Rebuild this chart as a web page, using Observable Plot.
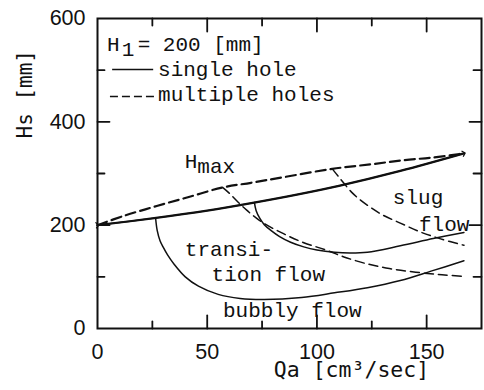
<!DOCTYPE html>
<html>
<head>
<meta charset="utf-8">
<script src="https://cdn.jsdelivr.net/npm/d3@7"></script>
<script src="https://cdn.jsdelivr.net/npm/@observablehq/plot@0.6"></script>
<style>
  body { margin: 0; background: #fff; }
  #chart svg { display: block; }
</style>
</head>
<body>
<div id="chart"></div>
<script>
// Air flow rate Qa [cm³/sec] against liquid head Hs [mm], H1 = 200 mm.

// Upper limit Hmax, single hole (solid) and multiple holes (dashed)
const hmaxSingleQa = [0, 25, 50, 72, 92, 110, 138, 167];
const hmaxSingleHs = [200, 213, 228, 244, 260, 276, 305, 339];
const hmaxMultiQa = [0, 12, 27, 42, 57, 70, 85, 107, 125, 140, 153, 167];
const hmaxMultiHs = [200, 218, 237, 255, 273, 282, 293, 309, 318, 326, 331, 339];

// Bubbly / transition boundary, single hole
const bubblyQa = [26.5, 27.2, 28.5, 30, 32, 35, 40, 46, 55, 65, 76, 93, 108, 123, 138, 152, 167];
const bubblyHs = [213, 190, 170, 157, 142, 124, 100, 82, 66, 58, 56, 60, 69, 79, 93, 111, 131];

// Transition / slug boundary, single hole
const slugSingleQa = [71.5, 72.3, 74, 76, 79, 83, 88, 94, 100, 108, 115, 123, 138, 153, 167];
const slugSingleHs = [244, 228, 213, 201, 190, 178, 167, 158, 152, 147.5, 146, 147.5, 160, 174, 186];

// Boundaries for multiple holes
const multiLowQa = [57, 60, 64, 68, 72, 76, 85, 94, 104, 112, 122, 133, 145, 157, 167];
const multiLowHs = [273, 262, 245, 229, 215, 203, 183, 166, 152, 139, 126, 116, 109, 104, 101];
const multiHighQa = [107, 110, 112.5, 116, 120, 129, 138, 147, 156, 167];
const multiHighHs = [309, 293, 280, 263, 248, 222, 204, 187, 174, 161];

// Axis ticks
const qaTicks = [0, 50, 100, 150];
const qaMinor = [25, 75, 125];
const hsTicks = [0, 200, 400, 600];
const hsMinor = [100, 300, 500];

// Region labels and their anchors (Qa, Hs)
const noteText = ["transi-", "tion flow", "bubbly flow", "slug", "flow", "H", "max"];
const noteQa = [39.8, 52.0, 57.2, 134.6, 146.5, 39.8, 45.5];
const noteHs = [154.2, 105.9, 34.8, 254.9, 202.6, 324.6, 314.9];

// Legend block
const legendText = ["H", "1", "= 200 [mm]", "single hole", "multiple holes"];
const legendQa = [4.3, 11.0, 18.3, 27.6, 27.6];
const legendHs = [550.3, 541.3, 550.3, 502.6, 452.9];

const pts = (qa, hs) => qa.map((q, i) => ({Qa: q, Hs: hs[i]}));
const notes = noteText.map((t, i) => ({t, Qa: noteQa[i], Hs: noteHs[i]}));
const legend = legendText.map((t, i) => ({t, Qa: legendQa[i], Hs: legendHs[i]}));

const mono = "Liberation Mono";
const axisMono = "DejaVu Sans Mono";
const sans = "Liberation Sans";
const ink = "#111";

const W = 484, H = 390;
const margin = {left: 97, right: 3, top: 18, bottom: 62};
const qaDomain = [0, 175];
const hsDomain = [0, 600];
// data units per pixel, so tick lengths can be given in pixels
const qaPerPx = (qaDomain[1] - qaDomain[0]) / (W - margin.left - margin.right);
const hsPerPx = (hsDomain[1] - hsDomain[0]) / (H - margin.top - margin.bottom);

// inward tick segments along each side of the frame (two points per tick, grouped by id)
const tickSegments = [];
const addTicks = (values, side, size) => values.forEach(v => {
  const id = side + v;
  const dq = size * qaPerPx, dh = size * hsPerPx;
  if (side === "bottom") tickSegments.push({id, Qa: v, Hs: hsDomain[0]}, {id, Qa: v, Hs: hsDomain[0] + dh});
  if (side === "top") tickSegments.push({id, Qa: v, Hs: hsDomain[1]}, {id, Qa: v, Hs: hsDomain[1] - dh});
  if (side === "left") tickSegments.push({id, Qa: qaDomain[0], Hs: v}, {id, Qa: qaDomain[0] + dq, Hs: v});
  if (side === "right") tickSegments.push({id, Qa: qaDomain[1], Hs: v}, {id, Qa: qaDomain[1] - dq, Hs: v});
});
addTicks(qaTicks.slice(1), "bottom", 13);
addTicks(qaMinor, "bottom", 7);
addTicks(qaTicks.slice(1), "top", 13);
addTicks(qaMinor, "top", 7);
addTicks(hsTicks.slice(1, 3), "left", 12);
addTicks(hsMinor, "left", 7);
addTicks(hsTicks.slice(1, 3), "right", 12);
addTicks(hsMinor, "right", 8);

const chart = Plot.plot({
  width: W,
  height: H,
  marginLeft: margin.left,
  marginRight: margin.right,
  marginTop: margin.top,
  marginBottom: margin.bottom,
  style: {background: "#fff", color: ink},
  x: {domain: qaDomain},
  y: {domain: hsDomain},
  marks: [
    // tick labels
    Plot.axisX(qaTicks, {anchor: "bottom", tickSize: 0, tickPadding: 15, label: null, fontFamily: sans, fontSize: 21.5}),
    Plot.axisY(hsTicks, {anchor: "left", tickSize: 0, tickPadding: 12, label: null, fontFamily: sans, fontSize: 21.5}),
    // axis titles
    Plot.text(["Qa [cm³/sec]"], {text: d => d, frameAnchor: "bottom", dx: 62, dy: 48, fontFamily: axisMono, fontSize: 21.5}),
    Plot.text(["Hs [mm]"], {text: d => d, frameAnchor: "left", rotate: -90, dx: -72, dy: -35, fontFamily: axisMono, fontSize: 21}),

    // Hmax
    Plot.line(pts(hmaxMultiQa, hmaxMultiHs), {x: "Qa", y: "Hs", curve: "catmull-rom", stroke: ink, strokeWidth: 2.2, strokeDasharray: "10,5"}),
    Plot.line(pts(hmaxSingleQa, hmaxSingleHs), {x: "Qa", y: "Hs", curve: "catmull-rom", stroke: ink, strokeWidth: 2.2}),
    Plot.line(pts(hmaxSingleQa, hmaxSingleHs), {x: "Qa", y: "Hs", curve: "catmull-rom", stroke: ink, strokeWidth: 1.3, markerStart: "arrow", markerEnd: "arrow"}),
    // flow-pattern boundaries
    Plot.line(pts(bubblyQa, bubblyHs), {x: "Qa", y: "Hs", curve: "catmull-rom", stroke: ink, strokeWidth: 1.5}),
    Plot.line(pts(slugSingleQa, slugSingleHs), {x: "Qa", y: "Hs", curve: "catmull-rom", stroke: ink, strokeWidth: 1.5}),
    Plot.line(pts(multiLowQa, multiLowHs), {x: "Qa", y: "Hs", curve: "catmull-rom", stroke: ink, strokeWidth: 1.5, strokeDasharray: "9,5"}),
    Plot.line(pts(multiHighQa, multiHighHs), {x: "Qa", y: "Hs", curve: "catmull-rom", stroke: ink, strokeWidth: 1.5, strokeDasharray: "9,5"}),

    // region labels
    Plot.text(notes, {x: "Qa", y: "Hs", text: "t", textAnchor: "start", fill: ink, fontFamily: mono, fontSize: 21}),

    // legend
    Plot.text(legend, {x: "Qa", y: "Hs", text: "t", textAnchor: "start", fill: ink, fontFamily: mono, fontSize: 21}),
    Plot.ruleY([501.3], {x1: 6.9, x2: 25.6, stroke: ink, strokeWidth: 1.6}),
    Plot.ruleY([449], {x1: 5.9, x2: 26.5, stroke: ink, strokeWidth: 1.6, strokeDasharray: "8,4"}),

    // frame with inward ticks on all four sides
    Plot.frame({stroke: ink, strokeWidth: 2}),
    Plot.line(tickSegments, {x: "Qa", y: "Hs", z: "id", stroke: ink, strokeWidth: 1.8})
  ]
});

document.getElementById("chart").append(chart);
</script>
</body>
</html>
